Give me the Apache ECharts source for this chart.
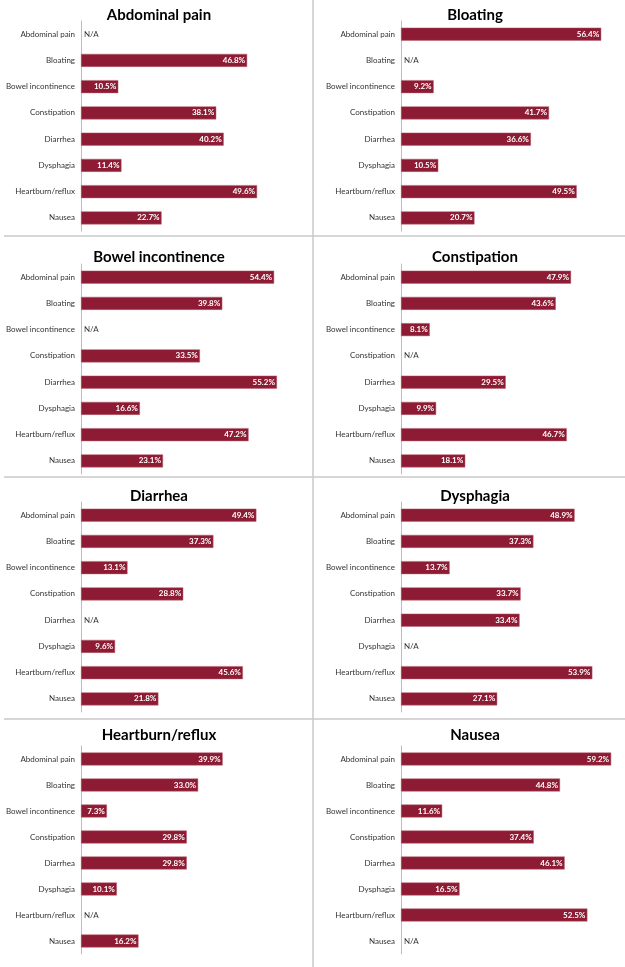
<!DOCTYPE html>
<html>
<head>
<meta charset="utf-8">
<script src="https://cdn.jsdelivr.net/npm/echarts@6/dist/echarts.min.js"></script>
<style>
  html, body { margin: 0; padding: 0; background: #fff; }
  #chart { width: 625px; height: 967px; }
</style>
</head>
<body>
<div id="chart"></div>
<script>
// symptom names, same order in every panel
var symptoms = ['Abdominal pain', 'Bloating', 'Bowel incontinence', 'Constipation',
                'Diarrhea', 'Dysphagia', 'Heartburn/reflux', 'Nausea'];

// panel titles (row by row, left then right)
var panelTitles = ['Abdominal pain', 'Bloating', 'Bowel incontinence', 'Constipation',
                   'Diarrhea', 'Dysphagia', 'Heartburn/reflux', 'Nausea'];

// percentages per panel, null = N/A
var abdominalPain     = [null, 46.8, 10.5, 38.1, 40.2, 11.4, 49.6, 22.7];
var bloating          = [56.4, null, 9.2, 41.7, 36.6, 10.5, 49.5, 20.7];
var bowelIncontinence = [54.4, 39.8, null, 33.5, 55.2, 16.6, 47.2, 23.1];
var constipation      = [47.9, 43.6, 8.1, null, 29.5, 9.9, 46.7, 18.1];
var diarrhea          = [49.4, 37.3, 13.1, 28.8, null, 9.6, 45.6, 21.8];
var dysphagia         = [48.9, 37.3, 13.7, 33.7, 33.4, null, 53.9, 27.1];
var heartburnReflux   = [39.9, 33.0, 7.3, 29.8, 29.8, 10.1, null, 16.2];
var nausea            = [59.2, 44.8, 11.6, 37.4, 46.1, 16.5, 52.5, null];

var panelData = [abdominalPain, bloating, bowelIncontinence, constipation,
                 diarrhea, dysphagia, heartburnReflux, nausea];

var FONT = 'Lato, "Open Sans", sans-serif';
var BAR = '#8c1b33';

// layout of the 2 x 4 grid
var colLeft = [81, 401];
var colCenter = [154, 470];
var rowTop = [21, 264, 502, 746];
var rowTitle = [3, 245, 484, 723];
var plotW = 213, plotH = 210;

var grids = [], xAxes = [], yAxes = [], series = [], titles = [];

for (var p = 0; p < 8; p++) {
    var col = p % 2, row = Math.floor(p / 2);
    grids.push({ left: colLeft[col], top: rowTop[row], width: plotW, height: (row == 3 ? 208 : plotH) });
    xAxes.push({
        gridIndex: p, type: 'value', min: 0, max: 60, show: false
    });
    yAxes.push({
        gridIndex: p, type: 'category', inverse: true, data: symptoms,
        axisLine: { show: true, lineStyle: { color: '#bdbdbd', width: 1 } },
        axisTick: { show: false },
        axisLabel: { color: '#333', fontSize: 8, fontFamily: FONT, margin: 6 },
        splitLine: { show: false }
    });
    titles.push({
        text: panelTitles[p], left: colCenter[col], top: rowTitle[row], textAlign: 'center',
        textStyle: { fontSize: 15, fontWeight: 'bold', color: '#000', fontFamily: FONT }
    });
    var items = [];
    for (var i = 0; i < panelData[p].length; i++) {
        var v = panelData[p][i];
        if (v === null) {
            items.push({
                value: 0,
                itemStyle: { borderWidth: 0 },
                label: { position: 'right', distance: 3, color: '#333', fontWeight: 'normal', formatter: 'N/A' }
            });
        } else {
            items.push(v);
        }
    }
    series.push({
        type: 'bar', xAxisIndex: p, yAxisIndex: p, data: items,
        barWidth: 13, silent: true,
        itemStyle: { color: BAR, borderColor: '#b8606f', borderWidth: 0.5 },
        label: {
            show: true, position: 'insideRight', distance: 2,
            color: '#fff', fontSize: 8, fontWeight: 'bold', fontFamily: FONT,
            formatter: function (d) { return d.value.toFixed(1) + '%'; }
        }
    });
}

var divider = { stroke: '#c8c8c8', lineWidth: 1.5 };
var graphics = [
    { type: 'line', shape: { x1: 313, y1: 0, x2: 313, y2: 967 }, style: divider }
];
[236, 477, 719].forEach(function (y) {
    graphics.push({ type: 'line', shape: { x1: 4, y1: y, x2: 625, y2: y }, style: divider });
});

var myChart = echarts.init(document.getElementById('chart'));
myChart.setOption({
    animation: false,
    backgroundColor: '#fff',
    title: titles,
    grid: grids,
    xAxis: xAxes,
    yAxis: yAxes,
    series: series,
    graphic: graphics
});
</script>
</body>
</html>
